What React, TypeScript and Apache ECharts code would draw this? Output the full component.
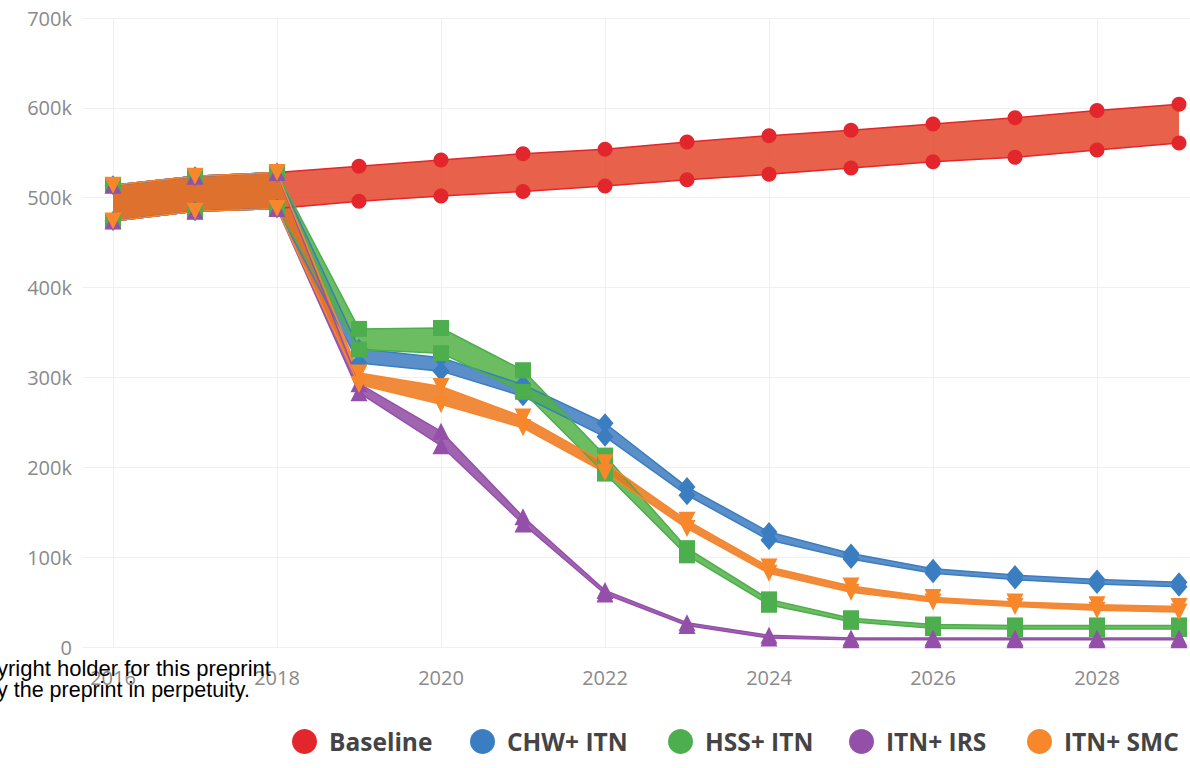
import React, { useEffect, useRef } from "react";
import * as echarts from "echarts";

const years = [2016, 2017, 2018, 2019, 2020, 2021, 2022, 2023, 2024, 2025, 2026, 2027, 2028, 2029];
const legendNames = ["Baseline", "CHW+ ITN", "HSS+ ITN", "ITN+ IRS", "ITN+ SMC"];
const xTickYears = [2016, 2018, 2020, 2022, 2024, 2026, 2028];

const baselineHigh = [514000, 524000, 528000, 535000, 542000, 549000, 554000, 562000, 569000, 575000, 582000, 589000, 597000, 604000];
const baselineLow = [474000, 485000, 488000, 496000, 502000, 507000, 513000, 520000, 526000, 533000, 540000, 545000, 553000, 561000];

const chwHigh = [514000, 524000, 528000, 332000, 322000, 292000, 249000, 178000, 128000, 104000, 87000, 80000, 75000, 72000];
const chwLow = [474000, 485000, 488000, 316000, 307000, 279000, 234000, 169000, 119000, 98000, 82000, 75000, 70000, 67000];

const hssHigh = [514000, 524000, 528000, 354000, 355000, 308000, 213000, 110000, 53000, 32000, 25000, 24000, 24000, 24000];
const hssLow = [474000, 485000, 488000, 331000, 327000, 284000, 193000, 102000, 47000, 28000, 21000, 20000, 20000, 20000];

const irsHigh = [514000, 524000, 528000, 293000, 240000, 145000, 63000, 27000, 13000, 10000, 10000, 10000, 10000, 10000];
const irsLow = [474000, 485000, 488000, 283000, 224000, 137000, 59000, 24000, 10000, 8000, 8000, 8000, 8000, 8000];

const smcHigh = [514000, 524000, 528000, 305000, 290000, 256000, 205000, 141000, 89000, 68000, 55000, 50000, 47000, 45000];
const smcLow = [474000, 485000, 488000, 292000, 270000, 244000, 194000, 132000, 82000, 61000, 50000, 45000, 41000, 39000];

const bands = [
  { hi: baselineHigh, lo: baselineLow },
  { hi: chwHigh, lo: chwLow },
  { hi: hssHigh, lo: hssLow },
  { hi: irsHigh, lo: irsLow },
  { hi: smcHigh, lo: smcLow },
];

const styles = [
  { marker: "#e3262b", fill: "rgba(228,70,43,0.85)", symbol: "circle", size: 15, rotate: 0, legendLeft: 292 },
  { marker: "#3a7dc0", fill: "rgba(61,123,193,0.85)", symbol: "diamond", size: [17, 20], rotate: 0, legendLeft: 470 },
  { marker: "#4cae4c", fill: "rgba(82,178,70,0.85)", symbol: "rect", size: 16, rotate: 0, legendLeft: 668 },
  { marker: "#9450a8", fill: "rgba(143,73,162,0.85)", symbol: "triangle", size: 17, rotate: 0, legendLeft: 849 },
  { marker: "#f8862a", fill: "rgba(237,117,26,0.85)", symbol: "triangle", size: 17, rotate: 180, legendLeft: 1027 },
];

export default function App() {
  const ref = useRef<HTMLDivElement>(null);
  useEffect(() => {
    if (!ref.current) return;
    const chart = echarts.init(ref.current, null, { renderer: "svg" });
    const series: any[] = [];
    bands.forEach((b, k) => {
      const st = styles[k];
      const name = legendNames[k];
      series.push({
        type: "custom",
        name,
        xAxisIndex: 1,
        yAxisIndex: 1,
        silent: true,
        data: years.map((y, i) => [y, b.lo[i], b.hi[i]]),
        encode: { x: 0, y: [1, 2] },
        renderItem: (params: any, api: any) => {
          if (params.dataIndex !== 0) return null;
          const pts: number[][] = [];
          for (let i = 0; i < years.length; i++) pts.push(api.coord([years[i], b.hi[i]]));
          for (let i = years.length - 1; i >= 0; i--) pts.push(api.coord([years[i], b.lo[i]]));
          return { type: "polygon", shape: { points: pts }, style: { fill: st.fill, stroke: "none" } };
        },
      });
      [b.hi, b.lo].forEach((arr) => {
        series.push({
          type: "line",
          name,
          xAxisIndex: 1,
          yAxisIndex: 1,
          data: years.map((y, i) => [y, arr[i]]),
          symbol: st.symbol,
          symbolSize: st.size,
          symbolRotate: st.rotate,
          showSymbol: true,
          lineStyle: { color: st.marker, width: 1.5 },
          itemStyle: { color: st.marker },
          emphasis: { disabled: true },
        });
      });
    });

    const labelFont = { fontSize: 20, color: "#8a8a8a", fontFamily: "Open Sans" };

    chart.setOption({
      animation: false,
      backgroundColor: "#ffffff",
      grid: [
        { left: 83, right: 0, top: 18, bottom: 121 },
        { left: 113, right: 0, top: 18, bottom: 121 },
      ],
      xAxis: [
        { gridIndex: 0, type: "value", min: 0, max: 1, show: false },
        {
          gridIndex: 1,
          type: "value",
          min: 2016,
          max: 2029.134,
          interval: 2,
          axisLine: { show: false },
          axisTick: { show: false },
          splitLine: { show: true, lineStyle: { color: "#f0f0f0", width: 1 } },
          axisLabel: {
            ...labelFont,
            margin: 20,
            showMaxLabel: false,
            formatter: (v: number) => (xTickYears.includes(v) ? String(v) : ""),
          },
        },
      ],
      yAxis: [
        {
          gridIndex: 0,
          type: "value",
          min: 0,
          max: 700000,
          interval: 100000,
          axisLine: { show: false },
          axisTick: { show: false },
          splitLine: { show: true, lineStyle: { color: "#f0f0f0", width: 1 } },
          axisLabel: {
            ...labelFont,
            margin: 11,
            formatter: (v: number) => (v === 0 ? "0" : v / 1000 + "k"),
          },
        },
        { gridIndex: 1, type: "value", min: 0, max: 700000, show: false },
      ],
      legend: legendNames.map((n, k) => ({
        left: styles[k].legendLeft,
        top: 729,
        padding: 0,
        itemWidth: 25,
        itemHeight: 25,
        icon: "circle",
        selectedMode: false,
        data: [{ name: n, itemStyle: { color: styles[k].marker } }],
        textStyle: { fontSize: 24.5, fontWeight: "bold", color: "#444", fontFamily: "Open Sans", padding: [0, 0, 0, 7] },
      })),
      graphic: [
        {
          type: "text",
          x: -3,
          y: 668,
          z: 100,
          style: { text: "yright holder for this preprint", font: '22px "Liberation Sans"', fill: "#000", verticalAlign: "middle" },
        },
        {
          type: "text",
          x: -3,
          y: 690,
          z: 100,
          style: { text: "y the preprint in perpetuity.", font: '21.5px "Liberation Sans"', fill: "#000", verticalAlign: "middle" },
        },
      ],
      series,
    });
    return () => chart.dispose();
  }, []);
  return (
    <div
      ref={ref}
      style={{ position: "fixed", left: 0, top: 0, width: 1190, height: 768, background: "#fff" }}
    />
  );
}
